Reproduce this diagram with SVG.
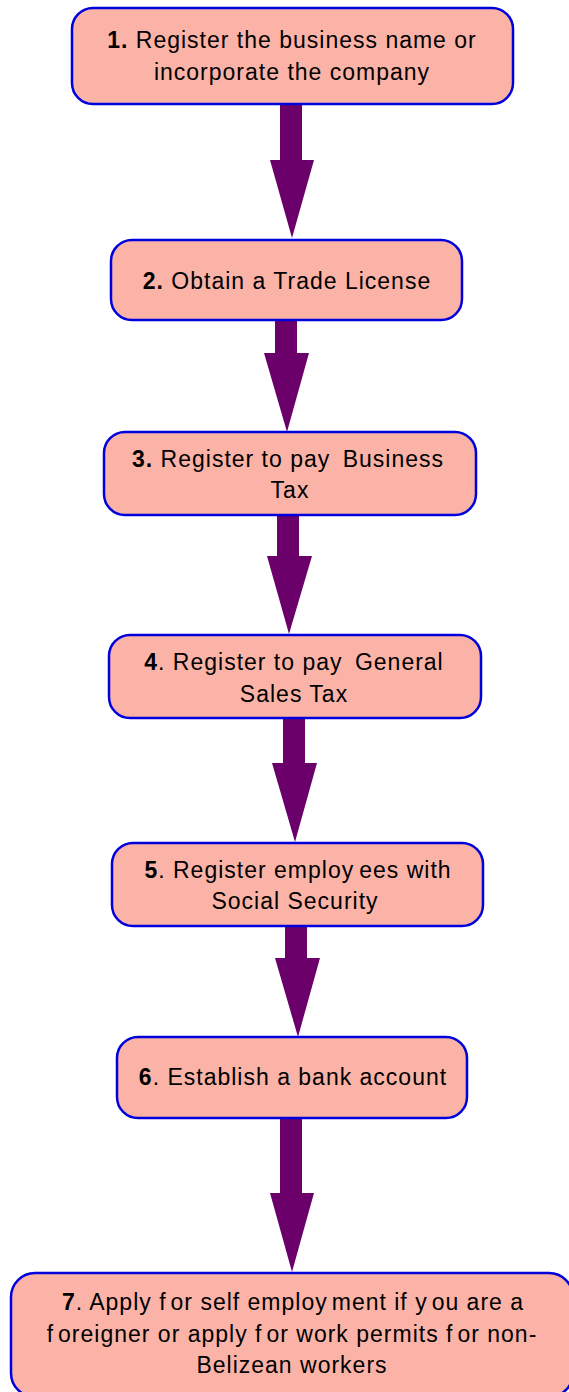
<svg xmlns="http://www.w3.org/2000/svg" width="569" height="1392" viewBox="0 0 569 1392">
<style>
.box{fill:#fcb3a7;stroke:#0000dd;stroke-width:2.5}
.arr{fill:#6b006b}
text{font-family:"Liberation Sans",Arial,sans-serif;font-size:23px;letter-spacing:1px;fill:#000;text-anchor:middle}
.b{font-weight:bold}
</style>
<rect width="569" height="1392" fill="#fff"/>
<g id="connectors">
<polygon class="arr" points="280,104 280,160 270,160 292,238 314,160 302,160 302,104"/>
<polygon class="arr" points="275,320 275,353 264,353 287,432 309,353 297,353 297,320"/>
<polygon class="arr" points="277,515 277,556 267,556 289,634 312,556 299,556 299,515"/>
<polygon class="arr" points="283,718 283,763 272,763 295,842 317,763 305,763 305,718"/>
<polygon class="arr" points="285,926 285,958 275,958 298,1037 320,958 307,958 307,926"/>
<polygon class="arr" points="280,1118 280,1193 270,1193 292,1272 314,1193 302,1193 302,1118"/>
</g>
<g id="node1">
<rect class="box" x="72" y="8" width="441" height="96" rx="21"/>
<text x="292" y="48"><tspan class="b">1.</tspan> Register the business name or</text>
<text x="292" y="80">incorporate the company</text>
</g>
<g id="node2">
<rect class="box" x="111" y="240" width="351" height="80" rx="21"/>
<text x="287" y="289"><tspan class="b">2.</tspan> Obtain a Trade License</text>
</g>
<g id="node3">
<rect class="box" x="104" y="432" width="372" height="83" rx="21"/>
<text x="288" y="467"><tspan class="b">3.</tspan> Register to pay <tspan dx="5">Business</tspan></text>
<text x="290" y="498">Tax</text>
</g>
<g id="node4">
<rect class="box" x="109" y="635" width="372" height="83" rx="21"/>
<text x="294" y="670"><tspan class="b">4</tspan>. Register to pay <tspan dx="5">General</tspan></text>
<text x="294" y="702">Sales Tax</text>
</g>
<g id="node5">
<rect class="box" x="112" y="843" width="371" height="83" rx="21"/>
<text x="298" y="878"><tspan class="b">5</tspan>. Register employ<tspan dx="5">ees</tspan> with</text>
<text x="295" y="909">Social Security</text>
</g>
<g id="node6">
<rect class="box" x="117" y="1037" width="350" height="81" rx="21"/>
<text x="293" y="1085"><tspan class="b">6</tspan>. Establish a bank account</text>
</g>
<g id="node7">
<rect class="box" x="11" y="1273" width="562" height="124" rx="24"/>
<text x="293" y="1310"><tspan class="b">7</tspan>. Apply f<tspan dx="4">or</tspan> self employ<tspan dx="4">ment</tspan> if y<tspan dx="4">ou</tspan> are a</text>
<text x="292" y="1342">f<tspan dx="4">oreigner</tspan> or apply f<tspan dx="4">or</tspan> work permits f<tspan dx="4">or</tspan> non-</text>
<text x="292" y="1373">Belizean workers</text>
</g>
</svg>
